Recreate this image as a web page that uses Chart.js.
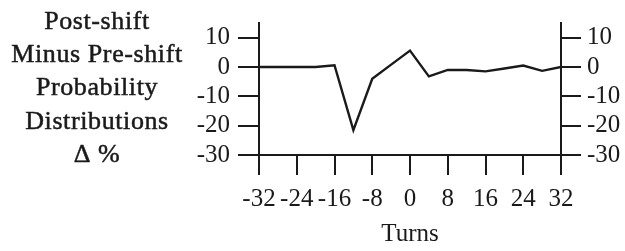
<!DOCTYPE html>
<html>
<head>
<meta charset="utf-8">
<script src="https://cdn.jsdelivr.net/npm/chart.js@4.4.1/dist/chart.umd.min.js"></script>
<style>
html,body{margin:0;padding:0;background:#fff;}
#wrap{position:relative;width:625px;height:251px;}
</style>
</head>
<body>
<div id="wrap"><canvas id="c" width="625" height="251"></canvas></div>
<script>
const turns = [-32,-28,-24,-20,-16,-12,-8,-4,0,4,8,12,16,20,24,28,32];
const deltaPct = [0,0,0,0,0.6,-21.5,-4,0.8,5.6,-3.2,-1,-1,-1.5,-0.5,0.5,-1.3,0];
const yTicks = [-30,-20,-10,0,10];
const xTicks = [-32,-24,-16,-8,0,8,16,24,32];
const titleLines = ['Post-shift','Minus Pre-shift','Probability','Distributions','\u0394 %'];
const xTitle = 'Turns';

const INK = '#1a1a1a';
const FONT = 'Liberation Serif';

const leftTitle = {
  id:'leftTitle',
  afterDraw(chart){
    const ctx = chart.ctx;
    ctx.save();
    ctx.font = '26px "' + FONT + '"';
    ctx.fillStyle = INK;
    ctx.strokeStyle = INK;
    ctx.lineWidth = 0.5;
    ctx.textAlign = 'center';
    ctx.textBaseline = 'alphabetic';
    try { ctx.letterSpacing = '0.6px'; } catch(e) {}
    titleLines.forEach((t,i)=>{
      const y = 28.5 + 33.4*i;
      ctx.fillText(t, 97, y);
      ctx.strokeText(t, 97, y);
    });
    ctx.restore();
  }
};

new Chart(document.getElementById('c'), {
  type:'line',
  data:{
    datasets:[{
      data: turns.map((t,i)=>({x:t,y:deltaPct[i]})),
      borderColor: INK,
      borderWidth: 2.4,
      pointRadius: 0,
      tension: 0,
      fill:false,
      yAxisID:'y'
    }]
  },
  options:{
    responsive:false,
    animation:false,
    devicePixelRatio:1,
    layout:{padding:{left:0,right:0,top:15,bottom:0}},
    plugins:{legend:{display:false},tooltip:{enabled:false},title:{display:false}},
    scales:{
      x:{
        type:'linear', min:-32, max:32,
        afterFit(s){ s.height = 96; },
        afterBuildTicks(s){ s.ticks = xTicks.map(v=>({value:v})); },
        grid:{drawOnChartArea:false, drawTicks:true, tickLength:20, color:INK, lineWidth:2},
        border:{display:true, color:INK, width:2},
        ticks:{color:INK, font:{family:FONT, size:25}, padding:9, maxRotation:0, autoSkip:false},
        title:{display:true, text:xTitle, color:INK, font:{family:FONT, size:25}, padding:{top:0,bottom:2}}
      },
      y:{
        position:'left', min:-30, max:15,
        afterFit(s){ s.width = 259; },
        afterBuildTicks(s){ s.ticks = yTicks.map(v=>({value:v})); },
        grid:{drawOnChartArea:false, drawTicks:true, tickLength:21, color:INK, lineWidth:2},
        border:{display:true, color:INK, width:2},
        ticks:{color:INK, font:{family:FONT, size:25}, padding:8}
      },
      y2:{
        position:'right', min:-30, max:15,
        afterFit(s){ s.width = 64; },
        afterBuildTicks(s){ s.ticks = yTicks.map(v=>({value:v})); },
        grid:{drawOnChartArea:false, drawTicks:true, tickLength:20, color:INK, lineWidth:2},
        border:{display:true, color:INK, width:2},
        ticks:{color:INK, font:{family:FONT, size:25}, padding:6}
      }
    }
  },
  plugins:[leftTitle]
});
</script>
</body>
</html>
